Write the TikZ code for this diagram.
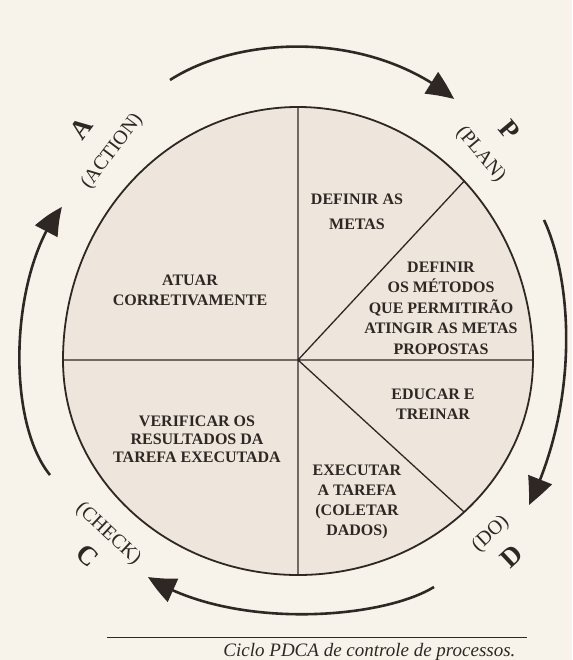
\documentclass[tikz,border=0pt]{standalone}
\usepackage{fontspec}
\setmainfont{Liberation Serif}
\usetikzlibrary{arrows.meta,bending,calc}
\definecolor{paper}{HTML}{F7F3EA}
\definecolor{egg}{HTML}{EEE6DC}
\definecolor{ink}{HTML}{2E2724}
\newcommand{\phaseletter}[1]{{\fontsize{27}{34}\selectfont\bfseries #1}}

\begin{document}
\begin{tikzpicture}[x=1pt,y=1pt,
  txt/.style={align=center,text=ink,font=\fontsize{16}{20}\selectfont\bfseries},
  lbl/.style={align=center,text=ink,inner sep=1pt,font=\fontsize{20}{34}\selectfont},
  cyc/.style={draw=ink,line width=2.6pt,-{Triangle[length=28pt,width=25pt,bend]}}]
  \fill[paper] (0,0) rectangle (572,660);
  \useasboundingbox (0,0) rectangle (572,660);

  % outer cycle arrows
  \draw[cyc] (170,580) .. controls (240,625) and (370,630) .. (454,561);
  \draw[cyc] (544,440) .. controls (572,380) and (580,260) .. (529,155);
  \draw[cyc] (434,73) .. controls (380,40) and (230,30) .. (148,83);
  \draw[cyc] (50,185) .. controls (5,240) and (10,390) .. (62,453);

  % the egg
  \coordinate (c) at (298,300);
  \filldraw[fill=egg,draw=ink,line width=1.8pt] (533,300)
    arc[start angle=0,end angle=180,x radius=235,y radius=253]
    arc[start angle=180,end angle=360,x radius=235,y radius=215] -- cycle;
  \coordinate (top) at (298,553);
  \coordinate (bot) at (298,85);
  \coordinate (lft) at (63,300);
  \coordinate (rgt) at (533,300);
  \coordinate (ne) at ($(c)+(45:235 and 253)$);
  \coordinate (se) at ($(c)+(-45:235 and 215)$);
  \draw[ink,line width=1.3pt] (top) -- (bot) (lft) -- (rgt) (c) -- (ne) (c) -- (se);

  % sector texts
  \node[txt,font=\fontsize{16}{25}\selectfont\bfseries] (metas) at (357,448) {DEFINIR AS\\METAS};
  \node[txt,font=\fontsize{16}{20.5}\selectfont\bfseries] (metodos) at (441,352) {DEFINIR\\OS MÉTODOS\\QUE PERMITIRÃO\\ATINGIR AS METAS\\PROPOSTAS};
  \node[txt] (atuar) at (190,370) {ATUAR\\CORRETIVAMENTE};
  \node[txt] (educar) at (433,256) {EDUCAR E\\TREINAR};
  \node[txt,font=\fontsize{16}{18}\selectfont\bfseries] (verificar) at (197,221) {VERIFICAR OS\\RESULTADOS DA\\TAREFA EXECUTADA};
  \node[txt] (executar) at (357,158) {EXECUTAR\\A TAREFA\\(COLETAR\\DADOS)};

  % phase labels
  \node[lbl,rotate=53] (act) at (97,520) {\phaseletter{A}\\(ACTION)};
  \node[lbl,rotate=-50] (plan) at (495,518) {\phaseletter{P}\\(PLAN)};
  \node[lbl,rotate=-43] (check) at (98,115) {(CHECK)\\\phaseletter{C}};
  \node[lbl,rotate=43] (do) at (501,115) {(DO)\\\phaseletter{D}};

  % caption
  \draw[ink,line width=1pt] (107,22) -- (527,22);
  \node[anchor=east,text=ink,font=\fontsize{19}{22}\selectfont\itshape] (cap) at (519,8) {Ciclo PDCA de controle de processos.};
\end{tikzpicture}
\end{document}
